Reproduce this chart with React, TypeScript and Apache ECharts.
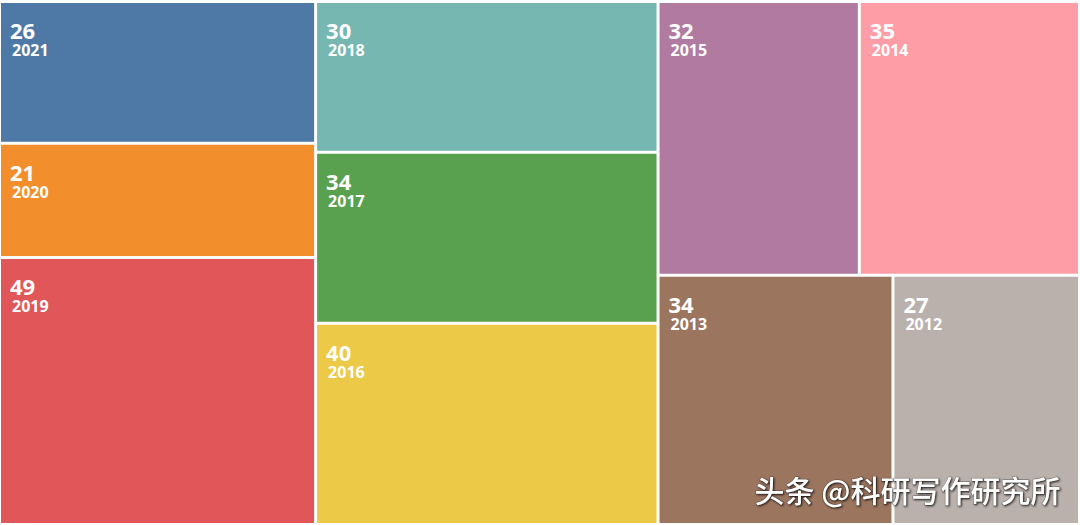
import React, { useEffect, useRef } from "react";
import * as echarts from "echarts";

const years = ["2021", "2020", "2019", "2018", "2017", "2016", "2015", "2014", "2013", "2012"];
const counts = [26, 21, 49, 30, 34, 40, 32, 35, 34, 27];
const colors = ["#4e79a7", "#f28e2b", "#e15759", "#76b7b2", "#59a14f", "#edc948", "#b07aa1", "#ff9da7", "#9c755f", "#bab0ac"];
// grouping of the layout: columns, and rows inside the third column
const groups: number[][][] = [[[0, 1, 2]], [[3, 4, 5]], [[6, 7], [8, 9]]];

function leaf(i: number) {
  return { name: years[i], value: counts[i], itemStyle: { color: colors[i] } };
}

function buildData() {
  return groups.map((col, ci) => {
    if (col.length === 1) {
      return { name: "col" + ci, children: col[0].map(leaf) };
    }
    return {
      name: "col" + ci,
      children: col.map((row, ri) => ({ name: "row" + ci + ri, children: row.map(leaf) })),
    };
  });
}

export default function App() {
  const ref = useRef<HTMLDivElement>(null);
  useEffect(() => {
    if (!ref.current) return;
    const chart = echarts.init(ref.current, null, { renderer: "svg" });
    const lvl = { itemStyle: { borderWidth: 0, gapWidth: 3, borderColor: "#fff" }, upperLabel: { show: false } };
    chart.setOption({
      animation: false,
      backgroundColor: "#ffffff",
      series: [
        {
          type: "treemap",
          left: 1,
          top: 3,
          right: 2,
          bottom: 2,
          sort: false,
          squareRatio: 0.3,
          roam: false,
          nodeClick: false,
          breadcrumb: { show: false },
          levels: [lvl, lvl, lvl, lvl],
          itemStyle: { borderWidth: 0, gapWidth: 3 },
          label: {
            show: true,
            position: "insideTopLeft",
            padding: [15, 0, 0, 9],
            formatter: (p: any) => `{v|${p.value}}\n{y|${p.name}}`,
            rich: {
              v: { fontFamily: "Noto Sans", fontWeight: "bold", fontSize: 22, lineHeight: 24, color: "#fff" },
              y: { fontFamily: "Noto Sans", fontWeight: "bold", fontSize: 16, lineHeight: 16, color: "#fff", padding: [0, 0, 0, 2] },
            },
          },
          data: buildData(),
        },
      ],
      graphic: [
        {
          type: "text",
          z: 100,
          left: 754,
          top: 473,
          style: {
            text: "头条 @科研写作研究所",
            font: "500 30px 'Noto Sans CJK SC'",
            fill: "#ffffff",
            stroke: "rgba(0,0,0,0.35)",
            lineWidth: 1,
            textShadowColor: "rgba(0,0,0,0.8)",
            textShadowBlur: 2,
            textShadowOffsetX: 1,
            textShadowOffsetY: 1,
          },
        },
      ],
    });
    return () => chart.dispose();
  }, []);
  return <div ref={ref} style={{ position: "absolute", left: 0, top: 0, width: 1080, height: 525 }} />;
}
